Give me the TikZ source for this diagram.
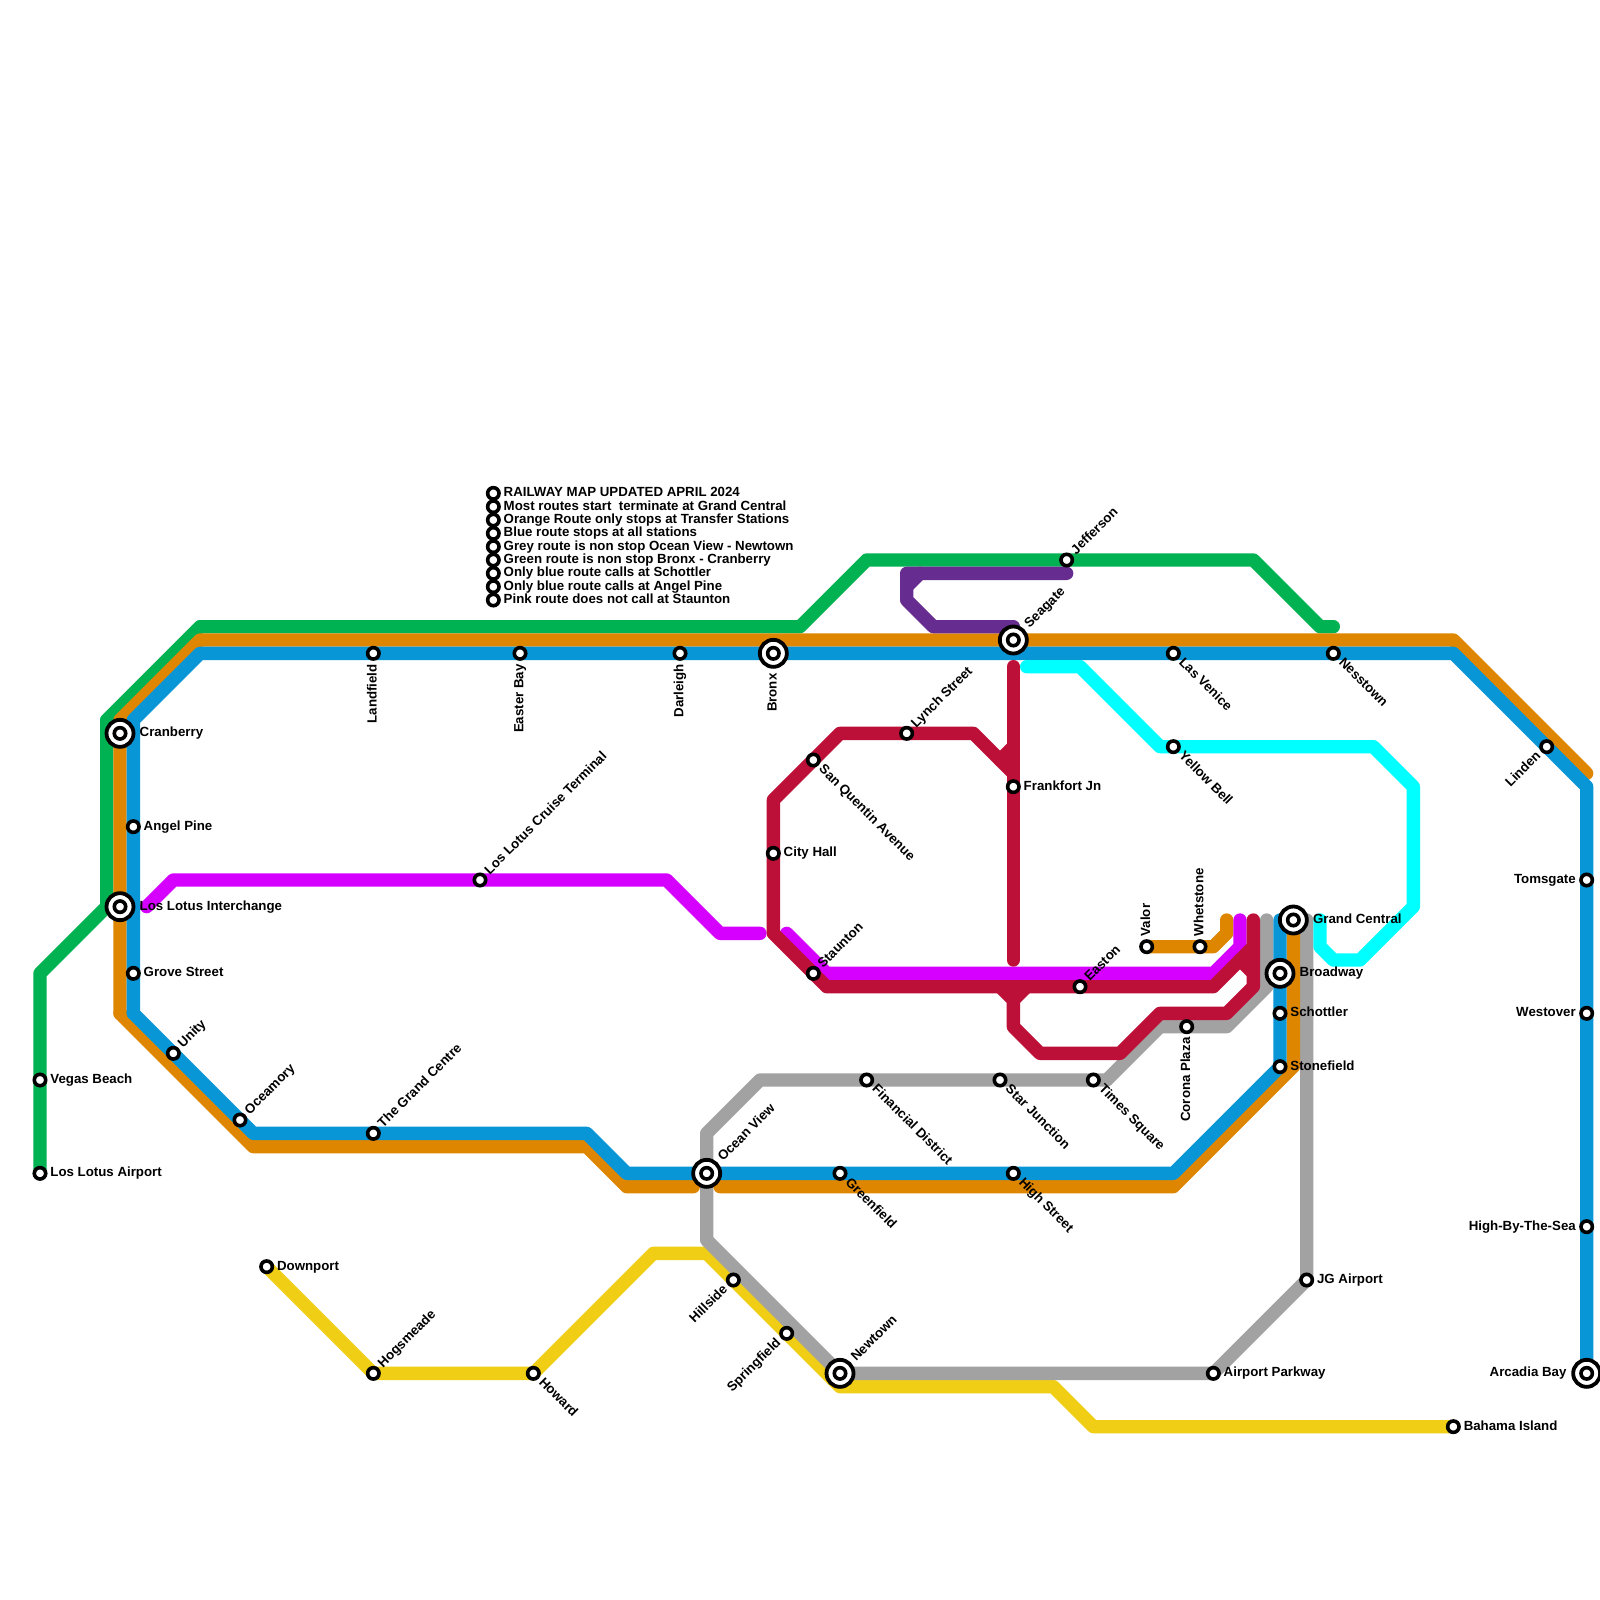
\documentclass[tikz,border=0pt]{standalone}
\usepackage{fontspec}
\setmainfont{Liberation Sans}
\usetikzlibrary{backgrounds}
\definecolor{cgreen}{HTML}{00B251}
\definecolor{corange}{HTML}{DF8600}
\definecolor{cblue}{HTML}{0896D7}
\definecolor{cgrey}{HTML}{A2A2A2}
\definecolor{cyellow}{HTML}{F0CE15}
\definecolor{ccyan}{HTML}{00FFFF}
\definecolor{ccrimson}{HTML}{BD1038}
\definecolor{cmagenta}{HTML}{D500FF}
\definecolor{cpurple}{HTML}{662C90}
\tikzset{
  railline/.style={line width=13.333bp,line cap=round,line join=round},
  stnode/.style={circle,draw=black,fill=white,line width=3.6bp,minimum size=11.4bp,inner sep=0pt},
  itcnode/.style={circle,draw=black,fill=white,line width=3.8bp,minimum size=27bp,inner sep=0pt},
  lbl/.style={inner sep=0pt,font=\fontsize{13.33}{13.33}\selectfont\bfseries,text=black},
}
% small station / interchange
\newcommand{\stn}[3]{\node[stnode] (#1) at (#2,#3) {};}
\newcommand{\itc}[3]{\node[itcnode] (#1) at (#2,#3) {};\node[stnode] (#1-in) at (#2,#3) {};}
% label after the station along angle #2, distance #3
\newcommand{\lblF}[4]{\node[lbl,rotate=#2,anchor=base west] (#1-t) at ([shift={(#2:#3bp-0.5bp)},shift={(#2-90:3.4bp)}]#1) {#4};}
% label before the station along angle #2, distance #3
\newcommand{\lblB}[4]{\node[lbl,rotate=#2,anchor=base east] (#1-t) at ([shift={(#2:-#3bp)},shift={(#2-90:3.4bp)}]#1) {#4};}
\begin{document}
\begin{tikzpicture}[x=13.33333bp,y=-13.33333bp]
\useasboundingbox (0,0) rectangle (120,120);
% stations
\stn{vegas}{3}{81}\stn{lla}{3}{88}
\itc{cran}{9}{55}\stn{angel}{10}{62}\itc{lli}{9}{68}\stn{grove}{10}{73}
\stn{unity}{13}{79}\stn{ocea}{18}{84}\stn{tgc}{28}{85}
\stn{land}{28}{49}\stn{easter}{39}{49}\stn{darl}{51}{49}\itc{bronx}{58}{49}
\itc{sea}{76}{48}\stn{venice}{88}{49}\stn{ness}{100}{49}\stn{linden}{116}{56}
\stn{toms}{119}{66}\stn{west}{119}{76}\stn{high}{119}{92}\itc{arc}{119}{103}
\stn{bahama}{109}{107}\stn{cruise}{36}{66}\stn{down}{20}{95}\stn{hogs}{28}{103}
\stn{howard}{40}{103}\stn{hill}{55}{96}\stn{spring}{59}{100}\itc{newt}{63}{103}
\itc{ocean}{53}{88}\stn{green}{63}{88}\stn{hist}{76}{88}
\stn{fin}{65}{81}\stn{star}{75}{81}\stn{times}{82}{81}\stn{corona}{89}{77}
\stn{airp}{91}{103}\stn{jg}{98}{96}
\stn{stone}{96}{80}\stn{schot}{96}{76}\itc{broad}{96}{73}\itc{gc}{97}{69}
\stn{valor}{86}{71}\stn{whet}{90}{71}\stn{east}{81}{74}\stn{staun}{61}{73}
\stn{city}{58}{64}\stn{sanq}{61}{57}\stn{lynch}{68}{55}\stn{frank}{76}{59}
\stn{yell}{88}{56}\stn{jeff}{80}{42}
\stn{n1}{37}{37}\stn{n2}{37}{38}\stn{n3}{37}{39}\stn{n4}{37}{40}\stn{n5}{37}{41}
\stn{n6}{37}{42}\stn{n7}{37}{43}\stn{n8}{37}{44}\stn{n9}{37}{45}
% lines
\begin{scope}[on background layer]
\fill[white] (0,0) rectangle (120,120);
\draw[railline,cgreen] (lla.center) -- (3,73) -- (8,68) -- (8,54) -- (15,47) -- (60,47) -- (65,42) -- (94,42) -- (99,47) -- (100,47);
\draw[railline,cyellow] (down.center) -- (hogs.center) -- (howard.center) -- (49,94) -- (53,94) -- (63,104) -- (79,104) -- (82,107) -- (bahama.center);
\draw[railline,cgrey] (95,69) -- (95,74) -- (92,77) -- (87,77) -- (83,81) -- (57,81) -- (53,85) -- (53,93) -- (newt.center) -- (airp.center) -- (jg.center) -- (98,69);
\draw[railline,corange] (9,76) -- (9,54) -- (15,48) -- (109,48) -- (119,58);
\draw[railline,corange] (9,76) -- (19,86) -- (44,86) -- (47,89) -- (52,89);
\draw[railline,corange] (54,89) -- (88,89) -- (97,80) -- (97,69);
\draw[railline,corange] (valor.center) -- (91,71) -- (92,70) -- (92,69);
\draw[railline,cblue] (10,76) -- (10,54) -- (15,49) -- (109,49) -- (119,59) -- (arc.center);
\draw[railline,cblue] (10,76) -- (19,85) -- (44,85) -- (47,88) -- (88,88) -- (96,80) -- (96,69);
\draw[railline,ccyan] (77,50) -- (81,50) -- (87,56) -- (103,56) -- (106,59) -- (106,68) -- (102,72) -- (100,72) -- (99,71) -- (99,69);
\draw[railline,cpurple] (80,43) -- (68,43) -- (68,45) -- (70,47) -- (76,47);
\draw[railline,cpurple] (69,43) -- (68,44);
\draw[railline,cmagenta] (11,68) -- (13,66) -- (50,66) -- (54,70) -- (57,70);
\draw[railline,cmagenta] (59,70) -- (62,73) -- (91,73) -- (93,71) -- (93,69);
\draw[railline,ccrimson] (76,50) -- (76,72);
\draw[railline,ccrimson] (76,58) -- (73,55) -- (63,55) -- (58,60) -- (58,70) -- (62,74) -- (91,74) -- (94,71) -- (94,69);
\draw[railline,ccrimson] (76,56) -- (75,57);
\draw[railline,ccrimson] (93,72) -- (94,73);
\draw[railline,ccrimson] (94,71) -- (94,74) -- (92,76) -- (87,76) -- (84,79) -- (78,79) -- (76,77) -- (76,75) -- (75,74);
\draw[railline,ccrimson] (77,74) -- (76,75);
\end{scope}
% labels
\lblF{vegas}{0}{10.7}{Vegas Beach}
\lblF{lla}{0}{10.7}{Los Lotus Airport}
\lblF{cran}{0}{20}{Cranberry}
\lblF{angel}{0}{10.7}{Angel Pine}
\lblF{lli}{0}{20}{Los Lotus Interchange}
\lblF{grove}{0}{10.7}{Grove Street}
\lblF{unity}{45}{10.7}{Unity}
\lblF{ocea}{45}{10.7}{Oceamory}
\lblF{tgc}{45}{10.7}{The Grand Centre}
\lblB{land}{90}{10.7}{Landfield}
\lblB{easter}{90}{10.7}{Easter Bay}
\lblB{darl}{90}{10.7}{Darleigh}
\lblB{bronx}{90}{20}{Bronx}
\lblF{sea}{45}{20}{Seagate}
\lblF{venice}{-45}{10.7}{Las Venice}
\lblF{ness}{-45}{10.7}{Nesstown}
\lblB{linden}{45}{10.7}{Linden}
\lblB{toms}{0}{10.7}{Tomsgate}
\lblB{west}{0}{10.7}{Westover}
\lblB{high}{0}{10.7}{High-By-The-Sea}
\lblB{arc}{0}{20}{Arcadia Bay}
\lblF{bahama}{0}{10.7}{Bahama Island}
\lblF{cruise}{45}{10.7}{Los Lotus Cruise Terminal}
\lblF{down}{0}{10.7}{Downport}
\lblF{hogs}{45}{10.7}{Hogsmeade}
\lblF{howard}{-45}{10.7}{Howard}
\lblB{hill}{45}{10.7}{Hillside}
\lblB{spring}{45}{10.7}{Springfield}
\lblF{newt}{45}{20}{Newtown}
\lblF{ocean}{45}{20}{Ocean View}
\lblF{green}{-45}{10.7}{Greenfield}
\lblF{hist}{-45}{10.7}{High Street}
\lblF{fin}{-45}{10.7}{Financial District}
\lblF{star}{-45}{10.7}{Star Junction}
\lblF{times}{-45}{10.7}{Times Square}
\lblB{corona}{90}{10.7}{Corona Plaza}
\lblF{airp}{0}{10.7}{Airport Parkway}
\lblF{jg}{0}{10.7}{JG Airport}
\lblF{stone}{0}{10.7}{Stonefield}
\lblF{schot}{0}{10.7}{Schottler}
\lblF{broad}{0}{20}{Broadway}
\lblF{gc}{0}{20}{Grand Central}
\lblF{valor}{90}{10.7}{Valor}
\lblF{whet}{90}{10.7}{Whetstone}
\lblF{east}{45}{10.7}{Easton}
\lblF{staun}{45}{10.7}{Staunton}
\lblF{city}{0}{10.7}{City Hall}
\lblF{sanq}{-45}{10.7}{San Quentin Avenue}
\lblF{lynch}{45}{10.7}{Lynch Street}
\lblF{frank}{0}{10.7}{Frankfort Jn}
\lblF{yell}{-45}{10.7}{Yellow Bell}
\lblF{jeff}{45}{10.7}{Jefferson}
\lblF{n1}{0}{10.7}{RAILWAY MAP UPDATED APRIL 2024}
\lblF{n2}{0}{10.7}{Most routes start\ \ terminate at Grand Central}
\lblF{n3}{0}{10.7}{Orange Route only stops at Transfer Stations}
\lblF{n4}{0}{10.7}{Blue route stops at all stations}
\lblF{n5}{0}{10.7}{Grey route is non stop Ocean View - Newtown}
\lblF{n6}{0}{10.7}{Green route is non stop Bronx - Cranberry}
\lblF{n7}{0}{10.7}{Only blue route calls at Schottler}
\lblF{n8}{0}{10.7}{Only blue route calls at Angel Pine}
\lblF{n9}{0}{10.7}{Pink route does not call at Staunton}
\end{tikzpicture}
\end{document}
